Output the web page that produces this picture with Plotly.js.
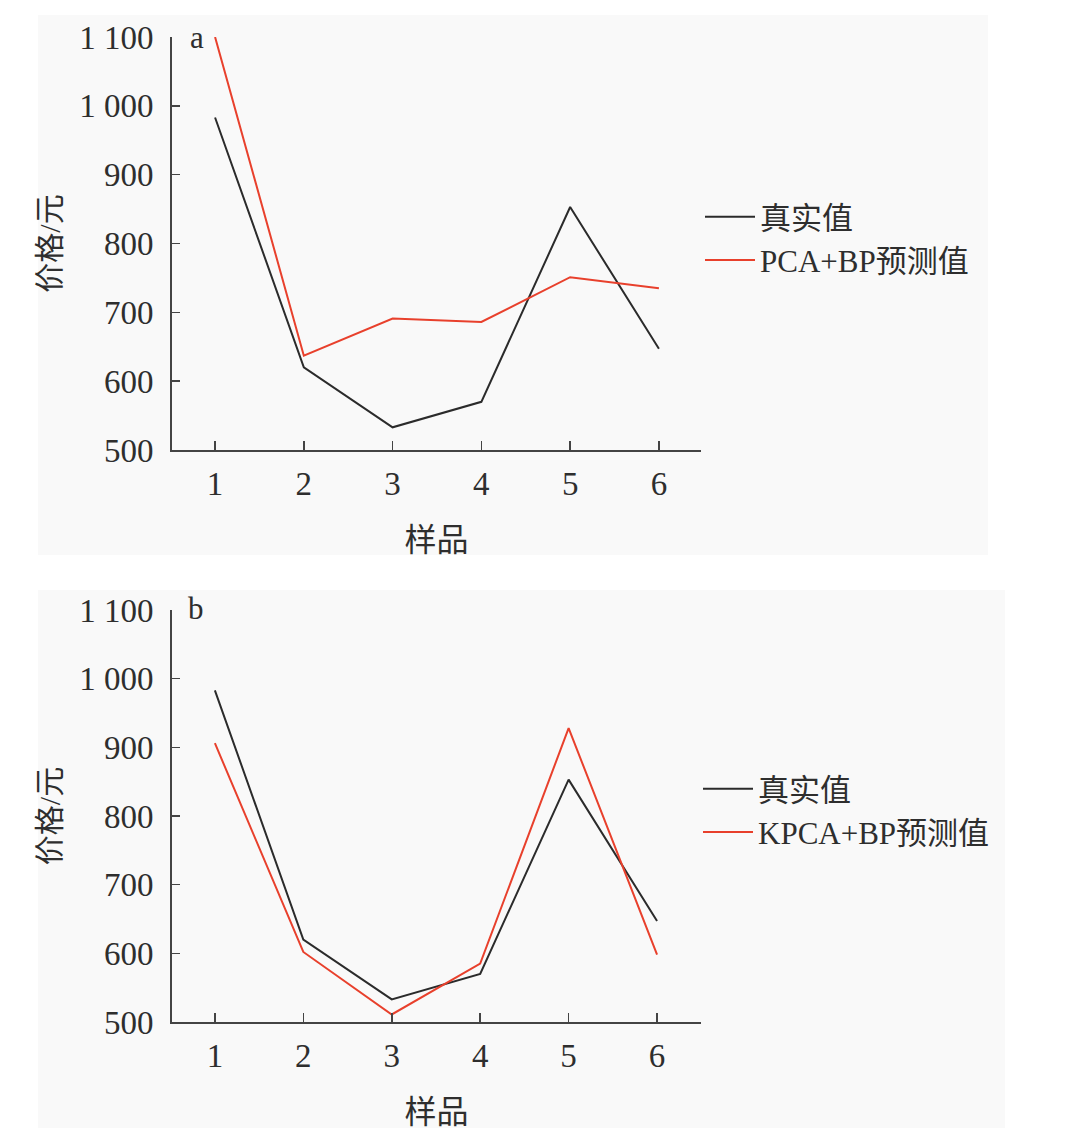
<!DOCTYPE html>
<html>
<head>
<meta charset="utf-8">
<script src="https://cdn.plot.ly/plotly-3.0.1.min.js"></script>
<style>html,body{margin:0;padding:0;background:#fff;}</style>
</head>
<body>
<div id="chart" style="width:1071px;height:1148px;"></div>
<script>
const samples = [1, 2, 3, 4, 5, 6];
const realPrice = [983, 620, 533, 570, 853, 647];
const pcaBp = [1100, 637, 691, 686, 751, 735];
const kpcaBp = [906, 602, 511, 585, 928, 598];
const yTickVals = [500, 600, 700, 800, 900, 1000, 1100];
const yTickText = ['500', '600', '700', '800', '900', '1 000', '1 100'];
const labelReal = '真实值';
const labelPca = 'PCA+BP预测值';
const labelKpca = 'KPCA+BP预测值';
const xTitle = '样品';
const yTitle = '价格/元';

const FONT = 'Liberation Serif, "Noto Sans CJK SC", serif';
const BLACK = '#2b2b2b';
const RED = '#e8402c';
const TXT = '#2e2e2e';

const traces = [
  {x: samples, y: realPrice, type: 'scatter', mode: 'lines', name: labelReal,
   line: {color: BLACK, width: 2}, xaxis: 'x', yaxis: 'y', legend: 'legend'},
  {x: samples, y: pcaBp, type: 'scatter', mode: 'lines', name: labelPca,
   line: {color: RED, width: 2}, xaxis: 'x', yaxis: 'y', legend: 'legend'},
  {x: samples, y: realPrice, type: 'scatter', mode: 'lines', name: labelReal,
   line: {color: BLACK, width: 2}, xaxis: 'x2', yaxis: 'y2', legend: 'legend2'},
  {x: samples, y: kpcaBp, type: 'scatter', mode: 'lines', name: labelKpca,
   line: {color: RED, width: 2}, xaxis: 'x2', yaxis: 'y2', legend: 'legend2'}
];

function xAxis(anchor, range) {
  return {
    anchor: anchor, domain: [172/1071, 701/1071], range: range,
    tickvals: samples, ticks: 'inside', ticklen: 9, tickwidth: 1.5, tickcolor: '#444',
    showline: true, linecolor: '#444', linewidth: 2, showgrid: false, zeroline: false,
    ticklabelstandoff: 3,
    tickfont: {family: FONT, size: 33, color: TXT},
    title: {text: xTitle, font: {family: FONT, size: 32, color: TXT}, standoff: 28},
    fixedrange: true
  };
}
function yAxis(anchor, domain) {
  return {
    anchor: anchor, domain: domain, range: [500, 1100],
    tickvals: yTickVals, ticktext: yTickText, ticks: 'inside', ticklen: 8, tickwidth: 1.5, tickcolor: '#444',
    showline: true, linecolor: '#444', linewidth: 2, showgrid: false, zeroline: false,
    ticklabelstandoff: 10,
    tickfont: {family: FONT, size: 33, color: TXT},
    title: {text: yTitle, font: {family: FONT, size: 30, color: TXT}, standoff: 10},
    fixedrange: true
  };
}

const layout = {
  width: 1071, height: 1148,
  margin: {l: 0, r: 0, t: 0, b: 0},
  paper_bgcolor: '#ffffff', plot_bgcolor: 'rgba(0,0,0,0)',
  showlegend: true,
  xaxis: xAxis('y', [0.515, 6.474]),
  yaxis: yAxis('x', [1 - 450/1148, 1 - 37/1148]),
  xaxis2: xAxis('y2', [0.515, 6.497]),
  yaxis2: yAxis('x2', [1 - 1022/1148, 1 - 610/1148]),
  legend: {x: 700/1071, y: 1 - 190/1148, xanchor: 'left', yanchor: 'top',
    bgcolor: 'rgba(0,0,0,0)', itemwidth: 50, tracegroupgap: 0,
    font: {family: FONT, size: 31, color: TXT}},
  legend2: {x: 698/1071, y: 1 - 762/1148, xanchor: 'left', yanchor: 'top',
    bgcolor: 'rgba(0,0,0,0)', itemwidth: 50, tracegroupgap: 0,
    font: {family: FONT, size: 31, color: TXT}},
  shapes: [
    {type: 'rect', xref: 'paper', yref: 'paper', layer: 'below',
     x0: 38/1071, x1: 988/1071, y0: 1 - 555/1148, y1: 1 - 15/1148,
     fillcolor: '#f9f9f9', line: {width: 0}},
    {type: 'rect', xref: 'paper', yref: 'paper', layer: 'below',
     x0: 38/1071, x1: 1005/1071, y0: 1 - 1128/1148, y1: 1 - 590/1148,
     fillcolor: '#f9f9f9', line: {width: 0}}
  ],
  annotations: [
    {text: 'a', xref: 'paper', yref: 'paper', x: 188/1071, y: 1 - 38/1148,
     xanchor: 'left', yanchor: 'middle', showarrow: false,
     font: {family: FONT, size: 31, color: TXT}},
    {text: 'b', xref: 'paper', yref: 'paper', x: 186/1071, y: 1 - 608/1148,
     xanchor: 'left', yanchor: 'middle', showarrow: false,
     font: {family: FONT, size: 31, color: TXT}}
  ]
};

Plotly.newPlot('chart', traces, layout, {displayModeBar: false, staticPlot: true});
</script>
</body>
</html>
